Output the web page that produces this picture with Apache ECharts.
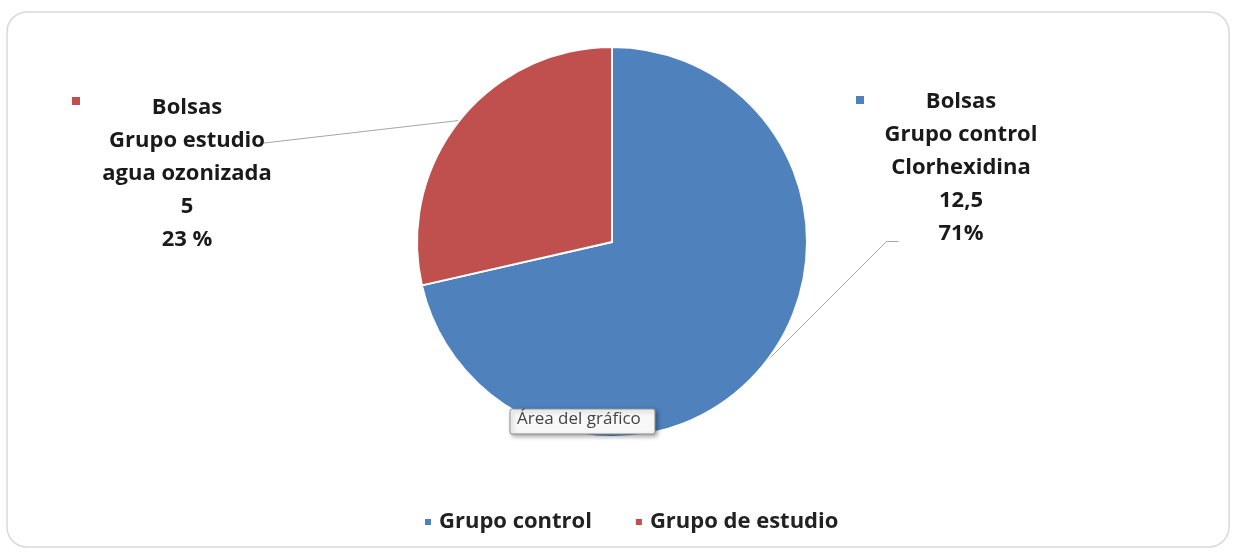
<!DOCTYPE html>
<html lang="es">
<head>
<meta charset="UTF-8">
<title>Bolsas</title>
<style>
  html, body { margin: 0; height: 100%; background: #ffffff; }
  #chart { width: 1236px; height: 552px; }
</style>
</head>
<body>
<div id="chart"></div>
<script src="https://cdn.jsdelivr.net/npm/echarts@6/dist/echarts.min.js"></script>
<script>
var categories = ['Grupo control', 'Grupo de estudio'];
var values = [12.5, 5];
var colors = ['#4f81bd', '#c0504d'];
var labelTexts = [
    ['Bolsas', 'Grupo control', 'Clorhexidina', '12,5', '71%'],
    ['Bolsas', 'Grupo estudio', 'agua ozonizada', '5', '23 %']
];

var font = '"Open Sans", sans-serif';
var labelPos = [[961, 168], [187, 174]];

var chart = echarts.init(document.getElementById('chart'));

var option = {
    backgroundColor: '#fff',
    animation: false,
    legend: {
        data: categories,
        left: 418,
        top: 506,
        icon: 'rect',
        itemWidth: 8,
        itemHeight: 8,
        itemGap: 42,
        textStyle: { fontFamily: font, fontWeight: 'bold', fontSize: 22, color: '#222', padding: [0, 0, 0, 2] }
    },
    graphic: [
        {
            type: 'rect', z: -10,
            shape: { x: 7, y: 12, width: 1222, height: 535, r: 20 },
            style: { fill: '#fff', stroke: '#d9d9d9', lineWidth: 1.5 }
        },
        { type: 'rect', shape: { x: 72, y: 97, width: 8, height: 8 }, style: { fill: colors[1] } },
        { type: 'rect', shape: { x: 856, y: 96, width: 8, height: 8 }, style: { fill: colors[0] } },
        {
            type: 'rect', z: 100,
            shape: { x: 510, y: 409, width: 145, height: 25, r: 2 },
            style: { fill: '#f8f8f8', stroke: '#8e8e8e', lineWidth: 1,
                shadowBlur: 4, shadowOffsetX: 2, shadowOffsetY: 2, shadowColor: 'rgba(0,0,0,0.35)' }
        },
        {
            type: 'text', z: 101, x: 517, y: 411,
            style: { text: 'Área del gráfico', font: '17px "Open Sans", sans-serif', fill: '#444' }
        }
    ],
    series: [{
        type: 'pie',
        center: [612, 242],
        radius: 195,
        startAngle: 90,
        clockwise: true,
        color: colors,
        itemStyle: { borderColor: '#fff', borderWidth: 2 },
        label: {
            show: true,
            position: 'outside',
            formatter: function (p) { return labelTexts[p.dataIndex].join('\n'); },
            fontFamily: font,
            fontWeight: 'bold',
            fontSize: 22,
            lineHeight: 33,
            color: '#1a1a1a',
            align: 'center'
        },
        labelLine: { show: true, lineStyle: { color: '#a6a6a6', width: 1 } },
        labelLayout: function (p) {
            var pos = labelPos[p.dataIndex];
            var w = p.labelRect.width, h = p.labelRect.height;
            var left = pos[0] - w / 2, top = pos[1] - h / 2;
            var start = p.labelLinePoints ? p.labelLinePoints[0] : [0, 0];
            var pts;
            if (p.dataIndex === 0) {
                pts = [start, [left + 2, top + h - 9], [left + 14, top + h - 9]];
            } else {
                pts = [start, [left + w - 12, top + 52]];
            }
            return { x: pos[0], y: pos[1], align: 'center', verticalAlign: 'middle', labelLinePoints: pts };
        },
        data: categories.map(function (c, i) { return { name: c, value: values[i] }; })
    }]
};
chart.setOption(option);
</script>
</body>
</html>
